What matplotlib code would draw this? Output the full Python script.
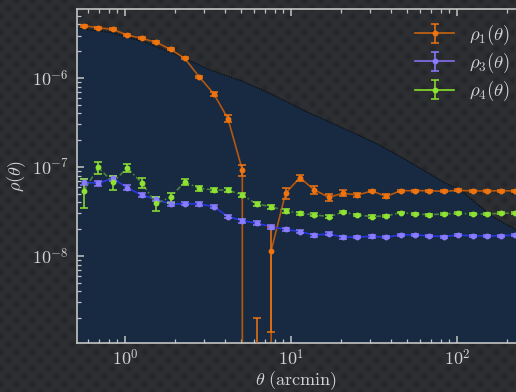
import numpy as np
import matplotlib
matplotlib.use("Agg")
import matplotlib.pyplot as plt
from matplotlib.ticker import LogLocator, FixedLocator, FuncFormatter, NullFormatter

plt.rcParams["mathtext.fontset"] = "cm"
plt.rcParams["font.family"] = ["DejaVu Serif"]

# ---- data ---------------------------------------------------------------
theta = [0.566, 0.691, 0.845, 1.03, 1.26, 1.54, 1.88, 2.29, 2.80, 3.42,
         4.17, 5.09, 6.22, 7.59, 9.27, 11.3, 13.8, 16.9, 20.6, 25.1,
         30.7, 37.5, 45.8, 55.8, 68.2, 83.3, 102.0, 124.0, 152.0, 185.0, 222.0]

rho1 = [3.87e-6, 3.67e-6, 3.52e-6, 3.04e-6, 2.79e-6, 2.52e-6, 2.10e-6, 1.66e-6,
        1.03e-6, 6.67e-7, 3.49e-7, 9.25e-8, -8.0e-9, 1.14e-8, 5.06e-8, 7.59e-8,
        5.52e-8, 4.57e-8, 5.06e-8, 4.84e-8, 5.37e-8, 4.67e-8, 5.41e-8, 5.41e-8,
        5.41e-8, 5.32e-8, 5.46e-8, 5.37e-8, 5.37e-8, 5.41e-8, 5.37e-8]
err1 = [1.0e-7, 9.0e-8, 8.5e-8, 7.5e-8, 7.0e-8, 6.0e-8, 5.0e-8, 4.5e-8,
        3.5e-8, 3.2e-8, 3.0e-8, 1.35e-8, 1.0e-8, 1.0e-8, 7.5e-9, 6.3e-9,
        5.8e-9, 4.0e-9, 3.9e-9, 3.0e-9, 2.0e-9, 2.5e-9, 1.5e-9, 1.5e-9,
        1.4e-9, 1.4e-9, 1.3e-9, 1.3e-9, 1.2e-9, 1.2e-9, 1.2e-9]

rho3 = [6.73e-8, 6.56e-8, 7.46e-8, 5.85e-8, 4.84e-8, 4.33e-8, 3.81e-8, 3.87e-8,
        3.84e-8, 3.58e-8, 2.77e-8, 2.49e-8, 2.33e-8, 2.13e-8, 1.99e-8, 1.88e-8,
        1.71e-8, 1.77e-8, 1.62e-8, 1.63e-8, 1.66e-8, 1.62e-8, 1.73e-8, 1.72e-8,
        1.68e-8, 1.65e-8, 1.72e-8, 1.68e-8, 1.68e-8, 1.68e-8, 1.72e-8]
err3 = [5.0e-9, 4.0e-9, 4.5e-9, 3.5e-9, 2.8e-9, 2.4e-9, 2.0e-9, 1.8e-9,
        1.6e-9, 1.5e-9, 1.3e-9, 1.2e-9, 1.1e-9, 1.0e-9, 9.0e-10, 8.0e-10,
        7.0e-10, 7.0e-10, 6.0e-10, 6.0e-10, 5.0e-10, 5.0e-10, 5.0e-10, 5.0e-10,
        4.0e-10, 4.0e-10, 4.0e-10, 4.0e-10, 4.0e-10, 4.0e-10, 4.0e-10]

rho4 = [5.40e-8, 9.90e-8, 6.70e-8, 9.76e-8, 6.65e-8, 3.89e-8, 4.56e-8, 6.80e-8,
        5.73e-8, 5.52e-8, 5.48e-8, 4.84e-8, 3.82e-8, 3.58e-8, 3.21e-8, 3.02e-8,
        2.89e-8, 2.77e-8, 3.10e-8, 2.89e-8, 2.77e-8, 2.81e-8, 3.07e-8, 2.96e-8,
        2.91e-8, 2.96e-8, 3.02e-8, 2.96e-8, 2.96e-8, 3.02e-8, 3.02e-8]
err4 = [1.9e-8, 1.57e-8, 1.2e-8, 1.05e-8, 8.0e-9, 6.8e-9, 5.9e-9, 4.8e-9,
        4.0e-9, 3.0e-9, 3.0e-9, 2.6e-9, 2.0e-9, 1.8e-9, 1.5e-9, 1.3e-9,
        1.1e-9, 1.0e-9, 1.0e-9, 9.0e-10, 8.0e-10, 8.0e-10, 7.0e-10, 7.0e-10,
        7.0e-10, 6.0e-10, 6.0e-10, 6.0e-10, 6.0e-10, 6.0e-10, 6.0e-10]

# upper envelope of the shaded region
bound_theta = [0.514, 0.812, 1.296, 2.056, 3.26, 5.19, 7.82, 12.4, 19.7,
               32.5, 51.4, 82.0, 108.0, 130.0, 164.0, 227.0]
bound_rho = [3.62e-6, 3.26e-6, 2.56e-6, 1.81e-6, 1.23e-6, 9.08e-7, 6.44e-7,
             4.18e-7, 2.84e-7, 1.85e-7, 1.15e-7, 6.84e-8, 5.27e-8, 3.91e-8,
             2.77e-8, 1.96e-8]

labels = [r"$\rho_1(\theta)$", r"$\rho_3(\theta)$", r"$\rho_4(\theta)$"]
x_major = [1.0, 10.0, 100.0]
y_major = [1e-8, 1e-7, 1e-6]

# ---- style --------------------------------------------------------------
W, H, DPI = 516, 392, 100
txt = "#d2d2d2"
spine_c = "#c4c4c4"

fig = plt.figure(figsize=(W / DPI, H / DPI), dpi=DPI)
fig.patch.set_facecolor("#2d2f32")

# dotted dark backdrop
yy, xx = np.mgrid[0:H, 0:W].astype(float)
per, sig = 16.0, 2.6


def spots(x0, y0):
    dx = ((xx - x0) % per) - per / 2
    dy = ((yy - y0) % per) - per / 2
    return np.exp(-(dx ** 2 + dy ** 2) / (2 * sig ** 2))


shade = spots(0, 0) + spots(per / 2, per / 2)
base = np.array([46, 48, 51], float) / 255.0
dark = np.array([36, 38, 41], float) / 255.0
tex = base[None, None, :] + (dark - base)[None, None, :] * np.clip(shade, 0, 1)[..., None]
fig.figimage(tex, xo=0, yo=0, zorder=-10, origin="upper")

ax = fig.add_axes([77 / W, 1 - 343 / H, 1 - 77 / W, (343 - 9) / H])
ax.set_zorder(1)
ax.patch.set_alpha(0.0)
ax.set_xscale("log")
ax.set_yscale("log")
ax.set_xlim(0.514, 226.5)
ax.set_ylim(1.05e-9, 5.96e-6)

# shaded region and its dotted rim
ax.fill_between(bound_theta, bound_rho, 1e-12, color="#172a41", lw=0, zorder=1)
ax.plot(bound_theta, bound_rho, color="#0a0d12", lw=0.9, ls=(0, (1, 1)), zorder=1.2)

series = [
    (rho1, err1, "#ef7410", "#c8650f", "#b4570f", "-"),
    (rho3, err3, "#8a7cff", "#8070ec", "#2838e0", "-"),
    (rho4, err4, "#8ee232", "#86e028", "#4f8040", (0, (3, 1.5, 1, 1.5))),
]

containers = []
for (r, e, mc, lc, conn, ls), lab in zip(series, labels):
    c = ax.errorbar(theta, r, yerr=e, fmt="o", ms=3.2, color=lc, mfc=mc, mec=mc,
                    ecolor=mc, elinewidth=1.1, capsize=3, capthick=1.1,
                    ls="-", lw=1.2, label=lab, zorder=3)
    containers.append(c)
    ax.plot(theta, r, color=conn, lw=1.2, ls=ls, zorder=2.5)

leg = ax.legend(loc="upper right", bbox_to_anchor=(1.0, 1.0 - 8 / 334),
                frameon=False, fontsize=13.5, handlelength=2.1,
                handletextpad=0.8, labelspacing=0.22, borderaxespad=0.0,
                borderpad=0.3)
for t in leg.get_texts():
    t.set_color(txt)

# in the axes only markers and bars; the connecting lines are drawn separately
for c in containers:
    c.lines[0].set_linestyle("none")

# ---- axes decoration -----------------------------------------------------
for s in ["left", "bottom", "top"]:
    ax.spines[s].set_color(spine_c)
    ax.spines[s].set_linewidth(1.2)
ax.spines["right"].set_visible(False)

ax.xaxis.set_major_locator(FixedLocator(x_major))
ax.xaxis.set_minor_locator(LogLocator(base=10, subs=np.arange(2, 10), numticks=20))
ax.yaxis.set_major_locator(FixedLocator(y_major))
ax.yaxis.set_minor_locator(LogLocator(base=10, subs=np.arange(2, 10), numticks=20))

fmt = FuncFormatter(lambda v, p: r"$10^{%d}$" % int(round(np.log10(v))))
ax.xaxis.set_major_formatter(fmt)
ax.yaxis.set_major_formatter(fmt)
ax.xaxis.set_minor_formatter(NullFormatter())
ax.yaxis.set_minor_formatter(NullFormatter())

ax.tick_params(axis="both", which="both", direction="in", colors=spine_c,
               labelcolor=txt, labelsize=13)
ax.tick_params(axis="x", which="both", top=True, bottom=True)
ax.tick_params(axis="y", which="both", left=True, right=False)
ax.tick_params(which="major", length=5, width=1.1)
ax.tick_params(which="minor", length=2.6, width=0.9)
ax.tick_params(axis="y", which="major", pad=6)
ax.tick_params(axis="x", which="major", pad=4)

ax.set_xlabel(r"$\theta\ \mathrm{(arcmin)}$", fontsize=13, color=txt, labelpad=0)
ax.set_ylabel(r"$\rho(\theta)$", fontsize=13, color=txt, labelpad=3)

fig.savefig("out.png", dpi=DPI, facecolor=fig.get_facecolor())
